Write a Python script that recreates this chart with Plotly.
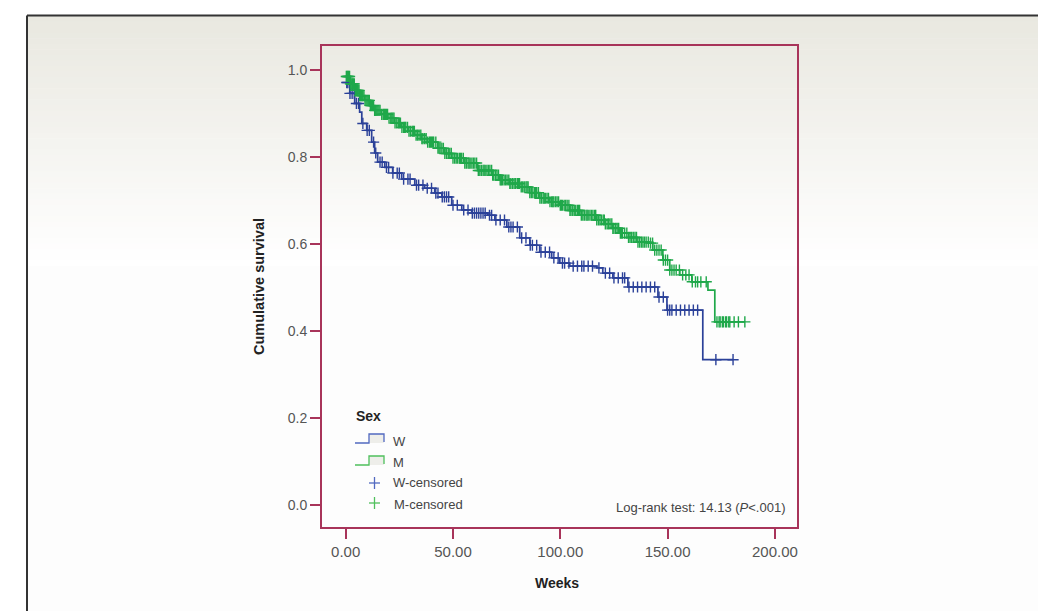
import bisect
import plotly.graph_objects as go

# ---------------- data ----------------
w_time = [0, 0.5, 1.9, 4.2, 6.5, 7.5, 9.8, 12.1, 13.5, 14.9, 18.2, 21.9, 26.1, 32.2, 36.8,
          41.5, 44.8, 49.4, 54.1, 58.7, 66.2, 69.5, 75.1, 81.1, 85.8, 90.4, 96.0, 99.8,
          104.4, 117.0, 119.8, 124.5, 131.5, 145.5, 149.7, 166.4, 180.5]
w_surv = [0.985, 0.971, 0.946, 0.923, 0.903, 0.877, 0.861, 0.834, 0.809, 0.788, 0.776, 0.763,
          0.749, 0.735, 0.728, 0.717, 0.708, 0.689, 0.678, 0.671, 0.666, 0.655, 0.639, 0.614,
          0.597, 0.581, 0.568, 0.556, 0.549, 0.545, 0.533, 0.522, 0.501, 0.478, 0.448, 0.334,
          0.334]

m_time = [0, 2.1, 4.2, 6.5, 8.9, 11.2, 13.5, 16.5, 19.6, 22.8, 26.1, 29.1, 32.2, 35.2, 38.2,
          42.9, 46.2, 49.4, 55.5, 61.5, 68.1, 71.8, 76.5, 81.1, 85.7, 90.4, 95.1, 99.8, 104.4,
          109.1, 117.0, 120.7, 124.5, 127.7, 131.8, 135.7, 141.7, 143.1, 147.8, 151.0, 155.7,
          161.3, 168.8, 172.0, 186.0]
m_surv = [0.985, 0.968, 0.953, 0.941, 0.930, 0.918, 0.907, 0.898, 0.889, 0.878, 0.868, 0.859,
          0.850, 0.842, 0.834, 0.820, 0.808, 0.797, 0.786, 0.769, 0.758, 0.747, 0.739, 0.731,
          0.718, 0.705, 0.697, 0.689, 0.677, 0.666, 0.655, 0.646, 0.636, 0.625, 0.615, 0.604,
          0.602, 0.586, 0.563, 0.540, 0.529, 0.513, 0.494, 0.421, 0.421]

w_censor = [0.5, 1, 2, 3, 4, 5, 6, 8, 10, 11, 13, 14, 16, 17, 19, 20, 22, 24, 25, 27, 29, 30,
            33, 34, 36, 38, 40, 42, 43, 45, 46, 47, 48, 50, 52, 55, 57, 59, 60, 61, 62, 63, 64,
            65, 67, 68, 70, 72, 74, 76, 77, 78, 80, 82, 84, 86, 87, 89, 91, 93, 95, 97, 99, 101,
            102, 104, 106, 108, 110, 111, 113, 115, 118, 121, 123, 125, 127, 129, 130, 132, 134,
            136, 138, 140, 142, 144, 146, 148, 150, 151, 152, 154, 156, 158, 160, 162, 164,
            172.5, 180.5]
m_censor = [0.3, 0.7, 1, 1.4, 1.8, 2.2, 2.5, 2.9, 3.2, 3.6, 4, 4.5, 5, 5.4, 5.8, 6.2, 6.5, 6.9,
            7.3, 7.7, 8, 8.5, 9, 9.5, 10, 10.5, 11, 11.5, 12, 12.5, 13, 13.5, 14, 14.5, 15, 15.5,
            16, 16.8, 17.5, 18, 18.5, 19, 19.5, 20.2, 21, 21.5, 22, 22.5, 23, 23.8, 24.5, 25,
            25.5, 26.2, 27, 27.5, 28, 28.8, 29.5, 30.2, 31, 31.5, 32, 32.8, 33.5, 34.2, 35, 35.5,
            36, 36.8, 37.5, 38.2, 39, 39.5, 40, 40.5, 41, 42, 43, 43.5, 44, 44.8, 45.5, 46.2, 47,
            47.8, 48.5, 49.2, 50, 50.8, 51.5, 52.2, 53, 53.5, 54, 54.8, 55.5, 56.2, 57, 57.5, 58,
            58.8, 59.5, 60.2, 61, 61.8, 62.5, 63.2, 64, 64.5, 65, 65.8, 66.5, 67.2, 68, 68.5, 69,
            69.8, 70.5, 71.2, 72, 72.5, 73, 73.8, 74.5, 75.2, 76, 76.5, 77, 77.8, 78.5, 79.2, 80,
            80.5, 81, 81.8, 82.5, 83.2, 84, 84.5, 85, 85.8, 86.5, 87.2, 88, 88.5, 89, 89.8, 90.5,
            91.2, 92, 92.5, 93, 93.8, 94.5, 95.2, 96, 96.5, 97, 97.8, 98.5, 99.2, 100, 100.5, 101,
            101.8, 102.5, 103.2, 104, 104.5, 105, 105.8, 106.5, 107.2, 108, 108.5, 109, 109.8,
            110.5, 111.2, 112, 112.5, 113, 113.8, 114.5, 115.2, 116, 116.5, 117, 117.8, 118.5,
            119.2, 120, 120.5, 121, 121.8, 122.5, 123.2, 124, 124.5, 125, 125.8, 126.5, 127.2,
            128, 128.5, 129, 130, 131, 131.8, 132.5, 133.2, 134, 134.8, 135.5, 136.2, 137, 137.8,
            138.5, 139.2, 140, 141, 142, 143, 144, 145, 146, 147, 148, 149, 150, 151, 152, 153,
            154, 155.5, 157, 158.5, 160, 161.5, 163, 164, 165.5, 168, 173, 174, 174.5, 175.5, 176,
            177, 177.5, 178.5, 179, 181, 183, 186]

x_tickvals = [0, 50, 100, 150, 200]
x_ticktext = ["0.00", "50.00", "100.00", "150.00", "200.00"]
y_tickvals = [0, 0.2, 0.4, 0.6, 0.8, 1.0]
y_ticktext = ["0.0", "0.2", "0.4", "0.6", "0.8", "1.0"]


def surv_at(times, survs, t):
    i = bisect.bisect_right(times, t) - 1
    return survs[max(i, 0)]


# ---------------- style ----------------
W_COL = "#2B4199"
M_COL = "#1FA84A"
W_LEG = "#5169C0"
M_LEG = "#4FC05C"
MAROON = "#A8345A"
FONT = "Liberation Sans, Arial, sans-serif"

OFF = 8  # page body margin of the rendered html
W, H = 1046, 611
# plot area, in screen pixels
SL, SR, ST, SB = 322, 797, 46, 527
L, R, T, B = SL - OFF, SR - OFF, ST - OFF, SB - OFF


def px(xp):
    return (xp - OFF - L) / (R - L)


def py(yp):
    return (B - (yp - OFF)) / (B - T)


fig = go.Figure()

fig.add_trace(go.Scatter(x=w_time, y=w_surv, mode="lines", line=dict(color=W_COL, width=1.7, shape="hv"),
                         showlegend=False, hoverinfo="skip"))
fig.add_trace(go.Scatter(x=w_censor, y=[surv_at(w_time, w_surv, t) for t in w_censor], mode="markers",
                         marker=dict(symbol="cross-thin", size=8, line=dict(color=W_COL, width=1.4)),
                         showlegend=False, hoverinfo="skip"))
fig.add_trace(go.Scatter(x=m_time, y=m_surv, mode="lines", line=dict(color=M_COL, width=1.7, shape="hv"),
                         showlegend=False, hoverinfo="skip"))
fig.add_trace(go.Scatter(x=m_censor, y=[surv_at(m_time, m_surv, t) for t in m_censor], mode="markers",
                         marker=dict(symbol="cross-thin", size=8, line=dict(color=M_COL, width=1.4)),
                         showlegend=False, hoverinfo="skip"))

shapes = []
# background gradient (paper area)
top_c = (233, 232, 224)
n = 45
y0, y1 = 16, 266
for i in range(n):
    f = i / (n - 1)
    c = tuple(int(round(top_c[k] + (255 - top_c[k]) * f)) for k in range(3))
    ya = y0 + (y1 - y0) * i / n
    yb = y0 + (y1 - y0) * (i + 1) / n + 0.5
    shapes.append(dict(type="rect", xref="paper", yref="paper", x0=px(27), x1=px(W + 30),
                       y0=py(yb), y1=py(ya), fillcolor="rgb(%d,%d,%d)" % c, line=dict(width=0),
                       layer="below"))
shapes.append(dict(type="rect", xref="paper", yref="paper", x0=px(27), x1=px(W + 30),
                   y0=py(H + 30), y1=py(y1), fillcolor="#FDFDFD", line=dict(width=0), layer="below"))
# outer frame
shapes.append(dict(type="line", xref="paper", yref="paper", x0=px(27), x1=px(W + 30), y0=py(15.5), y1=py(15.5),
                   line=dict(color="#333333", width=2), layer="below"))
shapes.append(dict(type="line", xref="paper", yref="paper", x0=px(27), x1=px(27), y0=py(15.5), y1=py(H + 30),
                   line=dict(color="#333333", width=2), layer="below"))

# legend glyphs
for (ylo, yhi, col) in [(443, 434, W_LEG), (465, 456, M_LEG)]:
    shapes.append(dict(type="rect", xref="paper", yref="paper", x0=px(369), x1=px(384), y0=py(ylo), y1=py(yhi),
                       fillcolor="#EEEEEA", line=dict(width=0)))
    shapes.append(dict(type="path", xref="paper", yref="paper",
                       path="M %f,%f L %f,%f L %f,%f L %f,%f L %f,%f" % (
                           px(355), py(ylo), px(369), py(ylo), px(369), py(yhi), px(384), py(yhi), px(384), py(ylo - 1)),
                       line=dict(color=col, width=1.3)))
for (yc, col) in [(483, W_LEG), (503, M_LEG)]:
    shapes.append(dict(type="line", xref="paper", yref="paper", x0=px(369), x1=px(380), y0=py(yc), y1=py(yc),
                       line=dict(color=col, width=1.3)))
    shapes.append(dict(type="line", xref="paper", yref="paper", x0=px(374.5), x1=px(374.5), y0=py(yc - 6),
                       y1=py(yc + 6), line=dict(color=col, width=1.3)))

annotations = [
    dict(text="<b>Sex</b>", x=px(354), y=py(416), xanchor="left", yanchor="middle", font=dict(size=14, color="#222")),
    dict(text="W", x=px(391), y=py(441), xanchor="left", yanchor="middle", font=dict(size=13, color="#444")),
    dict(text="M", x=px(391), y=py(462), xanchor="left", yanchor="middle", font=dict(size=13, color="#444")),
    dict(text="W-censored", x=px(391), y=py(482), xanchor="left", yanchor="middle", font=dict(size=13, color="#444")),
    dict(text="M-censored", x=px(392), y=py(504), xanchor="left", yanchor="middle", font=dict(size=13, color="#444")),
    dict(text="Log-rank test: 14.13 (<i>P</i><.001)", x=px(787), y=py(507), xanchor="right", yanchor="middle",
         font=dict(size=13, color="#444")),
    dict(text="<b>Weeks</b>", x=px(557), y=py(583), xanchor="center", yanchor="middle", font=dict(size=14, color="#222")),
    dict(text="<b>Cumulative survival</b>", x=px(259), y=py(287), xanchor="center", yanchor="middle", textangle=-90,
         font=dict(size=14.5, color="#222")),
]
for a in annotations:
    a.update(xref="paper", yref="paper", showarrow=False)

fig.update_layout(
    width=W, height=H,
    margin=dict(l=L, r=W - R, t=T, b=H - B, pad=0),
    paper_bgcolor="white", plot_bgcolor="white",
    font=dict(family=FONT, color="#444"),
    shapes=shapes, annotations=annotations, showlegend=False,
    xaxis=dict(range=[-11.04, 210.3], tickvals=x_tickvals, ticktext=x_ticktext, ticks="outside", ticklen=10,
               tickwidth=2, tickcolor=MAROON, showline=True, mirror=True, linecolor=MAROON, linewidth=2,
               showgrid=False, zeroline=False, tickfont=dict(size=15, color="#555", family=FONT)),
    yaxis=dict(range=[-0.0506, 1.055], tickvals=y_tickvals, ticktext=y_ticktext, ticks="outside", ticklen=10,
               tickwidth=2, tickcolor=MAROON, showline=True, mirror=True, linecolor=MAROON, linewidth=2,
               showgrid=False, zeroline=False, tickfont=dict(size=14, color="#555", family=FONT)),
)

fig.write_html("out.html")
